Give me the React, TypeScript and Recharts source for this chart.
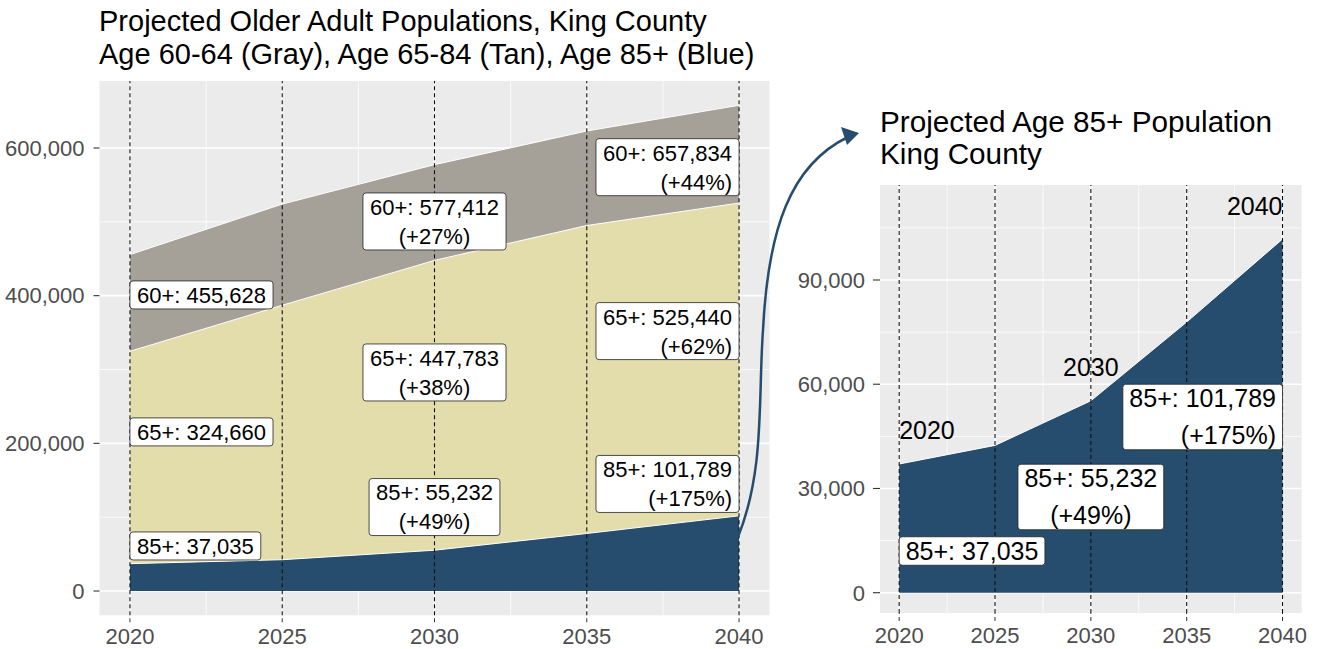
import React from 'react';
import { AreaChart, Area, XAxis, YAxis, CartesianGrid, ReferenceLine, ReferenceDot } from 'recharts';

// projected populations, King County
const years = [2020, 2025, 2030, 2035, 2040];
const pop60plus = [455628, 524000, 577412, 623000, 657834];
const pop65plus = [324660, 387000, 447783, 495000, 525440];
const pop85plus = [37035, 42400, 55232, 77900, 101789];

const yearTicks = [2020, 2025, 2030, 2035, 2040];
const yearMinor = [2022.5, 2027.5, 2032.5, 2037.5];
const leftTicks = [0, 200000, 400000, 600000];
const leftMinor = [100000, 300000, 500000];
const rightTicks = [0, 30000, 60000, 90000];
const rightMinor = [15000, 45000, 75000, 105000];

const GRAY = '#A5A199';
const TAN = '#E2DDAB';
const BLUE = '#264D6E';
const FONT = '"Liberation Sans", Arial, sans-serif';

const data = years.map((year, i) => ({
  year,
  p60: pop60plus[i],
  p65: pop65plus[i],
  p85: pop85plus[i],
}));

const seriesValues: Record<string, number[]> = { '60+': pop60plus, '65+': pop65plus, '85+': pop85plus };

// label anchors: year index, value at the centre of the box, horizontal justification
const leftLabelSpots = [
  { series: '60+', idx: 0, at: 401000, hjust: 0 },
  { series: '65+', idx: 0, at: 215500, hjust: 0 },
  { series: '85+', idx: 0, at: 61000, hjust: 0 },
  { series: '60+', idx: 2, at: 500500, hjust: 0.5 },
  { series: '65+', idx: 2, at: 296000, hjust: 0.5 },
  { series: '85+', idx: 2, at: 113700, hjust: 0.5 },
  { series: '60+', idx: 4, at: 574000, hjust: 1 },
  { series: '65+', idx: 4, at: 352000, hjust: 1 },
  { series: '85+', idx: 4, at: 145000, hjust: 1 },
];
const rightLabelSpots = [
  { series: '85+', idx: 0, at: 12000, hjust: 0 },
  { series: '85+', idx: 2, at: 27550, hjust: 0.5 },
  { series: '85+', idx: 4, at: 50570, hjust: 1 },
];
const rightYearSpots = [
  { idx: 0, at: 46800, hjust: 0 },
  { idx: 2, at: 65100, hjust: 0.5 },
  { idx: 4, at: 111400, hjust: 1 },
];

const fmt = (v: number) => v.toLocaleString('en-US');

function labelLines(series: string, idx: number) {
  const vals = seriesValues[series];
  const lines = [`${series}: ${fmt(vals[idx])}`];
  if (idx > 0) lines.push(`(+${Math.round((vals[idx] / vals[0] - 1) * 100)}%)`);
  return lines;
}

let measureCtx: CanvasRenderingContext2D | null = null;
function textWidth(t: string, size: number) {
  if (!measureCtx) measureCtx = document.createElement('canvas').getContext('2d');
  if (!measureCtx) return t.length * size * 0.55;
  measureCtx.font = `${size}px ${FONT}`;
  return measureCtx.measureText(t).width;
}

function LabelBox(props: any) {
  const { cx, cy, lines, hjust, fontSize, lineGap, baseH, padX } = props;
  if (cx == null || cy == null) return null;
  const w = Math.max(...lines.map((l: string) => textWidth(l, fontSize))) + padX * 2;
  const h = baseH + (lines.length - 1) * lineGap;
  const x0 = cx - hjust * w;
  const y0 = cy - h / 2;
  const anchor = hjust === 0 ? 'start' : hjust === 1 ? 'end' : 'middle';
  const tx = hjust === 0 ? x0 + padX : hjust === 1 ? x0 + w - padX : x0 + w / 2;
  return (
    <g>
      <rect x={x0} y={y0} width={w} height={h} rx={3} fill="#fff" stroke="#222" strokeWidth={0.8} />
      {lines.map((l: string, i: number) => (
        <text key={i} x={tx} y={y0 + baseH / 2 + i * lineGap + fontSize * 0.36} textAnchor={anchor}
          fontSize={fontSize} fill="#000" fontFamily={FONT}>{l}</text>
      ))}
    </g>
  );
}

function YearText(props: any) {
  const { cx, cy, text, hjust } = props;
  if (cx == null || cy == null) return null;
  const anchor = hjust === 0 ? 'start' : hjust === 1 ? 'end' : 'middle';
  return <text x={cx} y={cy + 25 * 0.36} textAnchor={anchor} fontSize={25} fill="#000" fontFamily={FONT}>{text}</text>;
}

const tickStyle = { fill: '#4D4D4D', fontSize: 22, fontFamily: FONT };

function panelBits(majorY: number[], minorY: number[]) {
  return [
    <CartesianGrid key="bg" fill="#EBEBEB" stroke="none" horizontal={false} vertical={false} />,
    <CartesianGrid key="minor" stroke="#fff" strokeWidth={0.8} horizontalValues={minorY} verticalValues={yearMinor} />,
    <CartesianGrid key="major" stroke="#fff" strokeWidth={1.6} horizontalValues={majorY} verticalValues={yearTicks} />,
  ];
}

function LeftChart() {
  return (
    <AreaChart width={790} height={649} data={data} margin={{ top: 81, right: 20.5, bottom: 0, left: 0 }}>
      {panelBits(leftTicks, leftMinor)}
      <XAxis dataKey="year" type="number" domain={[2019, 2041]} ticks={yearTicks} height={33.7}
        axisLine={false} tickSize={7} tickMargin={6} tick={tickStyle}
        tickLine={{ stroke: '#333', strokeDasharray: '4 3' }} />
      <YAxis type="number" domain={[-32892, 690726]} ticks={leftTicks} width={99.5}
        axisLine={false} tickSize={6} tickMargin={9} tick={tickStyle} tickFormatter={fmt}
        tickLine={{ stroke: '#333', strokeWidth: 1.1 }} />
      <Area type="linear" dataKey="p60" fill={GRAY} fillOpacity={1} stroke="#fff" strokeWidth={1}
        dot={false} activeDot={false} isAnimationActive={false} />
      <Area type="linear" dataKey="p65" fill={TAN} fillOpacity={1} stroke="#fff" strokeWidth={1}
        dot={false} activeDot={false} isAnimationActive={false} />
      <Area type="linear" dataKey="p85" fill={BLUE} fillOpacity={1} stroke="#fff" strokeWidth={1}
        dot={false} activeDot={false} isAnimationActive={false} />
      {yearTicks.map(y => (
        <ReferenceLine key={y} x={y} stroke="#111" strokeWidth={1.1} strokeDasharray="4 3" />
      ))}
      {leftLabelSpots.map((s, i) => (
        <ReferenceDot key={i} x={years[s.idx]} y={s.at} r={0}
          shape={(p: any) => <LabelBox {...p} lines={labelLines(s.series, s.idx)} hjust={s.hjust}
            fontSize={22} lineGap={29} baseH={28} padX={7} />} />
      ))}
    </AreaChart>
  );
}

function RightChart() {
  return (
    <AreaChart width={538} height={649} data={data} margin={{ top: 185, right: 16.3, bottom: 0, left: 0 }}>
      {panelBits(rightTicks, rightMinor)}
      <XAxis dataKey="year" type="number" domain={[2019, 2041]} ticks={yearTicks} height={36}
        axisLine={false} tickSize={8} tickMargin={6.5} tick={tickStyle}
        tickLine={{ stroke: '#333', strokeDasharray: '4 3' }} />
      <YAxis type="number" domain={[-5843, 117340]} ticks={rightTicks} width={100}
        axisLine={false} tickSize={7} tickMargin={8} tick={tickStyle} tickFormatter={fmt}
        tickLine={{ stroke: '#333', strokeWidth: 1.1 }} />
      <Area type="linear" dataKey="p85" fill={BLUE} fillOpacity={1} stroke="#fff" strokeWidth={1}
        dot={false} activeDot={false} isAnimationActive={false} />
      {yearTicks.map(y => (
        <ReferenceLine key={y} x={y} stroke="#111" strokeWidth={1.1} strokeDasharray="4 3" />
      ))}
      {rightYearSpots.map((s, i) => (
        <ReferenceDot key={'y' + i} x={years[s.idx]} y={s.at} r={0}
          shape={(p: any) => <YearText {...p} text={String(years[s.idx])} hjust={s.hjust} />} />
      ))}
      {rightLabelSpots.map((s, i) => (
        <ReferenceDot key={i} x={years[s.idx]} y={s.at} r={0}
          shape={(p: any) => <LabelBox {...p} lines={labelLines(s.series, s.idx)} hjust={s.hjust}
            fontSize={25} lineGap={37} baseH={28.5} padX={6.5} />} />
      ))}
    </AreaChart>
  );
}

const titleStyle: React.CSSProperties = {
  position: 'absolute', fontSize: 29, lineHeight: '33px', color: '#000', whiteSpace: 'nowrap',
};

export default function App() {
  return (
    <div style={{ position: 'absolute', left: 0, top: 0, width: 1318, height: 649, background: '#fff', fontFamily: FONT, overflow: 'hidden' }}>
      <div style={{ ...titleStyle, left: 99, top: 5 }}>
        Projected Older Adult Populations, King County<br />
        Age 60-64 (Gray), Age 65-84 (Tan), Age 85+ (Blue)
      </div>
      <div style={{ ...titleStyle, left: 880, top: 106, fontSize: 29.7, lineHeight: '32px' }}>
        Projected Age 85+ Population<br />
        King County
      </div>
      <div style={{ position: 'absolute', left: 0, top: 0 }}>
        <LeftChart />
      </div>
      <div style={{ position: 'absolute', left: 780, top: 0 }}>
        <RightChart />
      </div>
      <svg width={1318} height={649} style={{ position: 'absolute', left: 0, top: 0, pointerEvents: 'none' }}>
        <path d="M738,537 C765,470 758,400 763,330 C768,230 790,165 848,137" fill="none" stroke={BLUE} strokeWidth={2.5} />
        <polygon points="859,133 841,127 847,145" fill={BLUE} />
      </svg>
    </div>
  );
}
